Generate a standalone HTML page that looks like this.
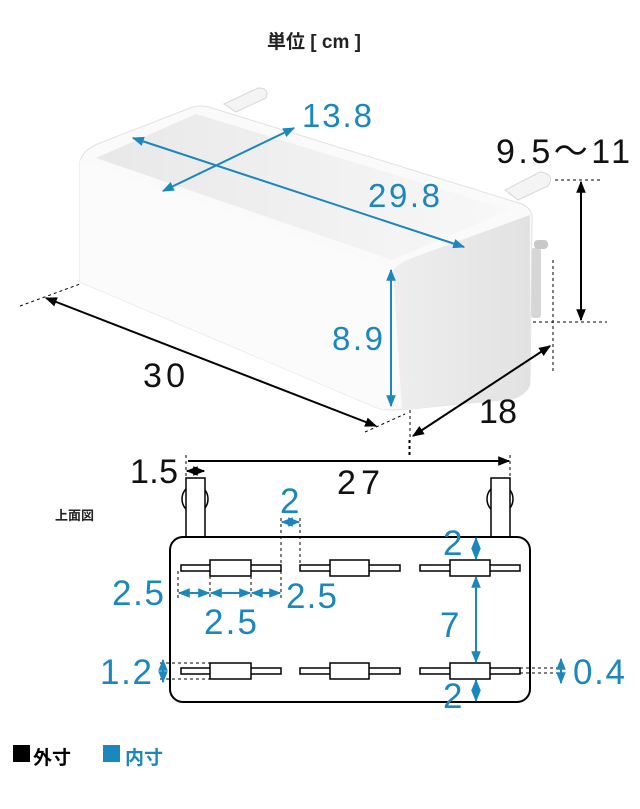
<!DOCTYPE html>
<html><head><meta charset="utf-8"><style>
html,body{margin:0;padding:0;background:#fff;width:640px;height:809px;overflow:hidden}
svg{display:block}
text{font-family:"Liberation Sans","Noto Sans CJK JP",sans-serif}
</style></head><body>
<svg width="640" height="809" viewBox="0 0 640 809" xmlns="http://www.w3.org/2000/svg">
<defs>
<marker id="ab" viewBox="0 0 10 10" refX="9" refY="5" markerWidth="6" markerHeight="6" orient="auto-start-reverse"><path d="M0,1 L10,5 L0,9 z" fill="#000"/></marker>
<marker id="abl" viewBox="0 0 10 10" refX="9" refY="5" markerWidth="6" markerHeight="6" orient="auto-start-reverse"><path d="M0,1 L10,5 L0,9 z" fill="#1a87bd"/></marker>
<linearGradient id="rf" x1="0" y1="0" x2="1" y2="0"><stop offset="0" stop-color="#eeeeee"/><stop offset="1" stop-color="#e2e2e2"/></linearGradient>
<linearGradient id="inn" x1="0" y1="0" x2="1" y2="0"><stop offset="0" stop-color="#e8e8e8"/><stop offset="1" stop-color="#f8f8f8"/></linearGradient>
</defs>

<text x="314" y="48" font-size="19" font-weight="bold" text-anchor="middle" fill="#222">単位 [ cm ]</text>

<!-- box -->
<path d="M224,104 L258,88 Q270,88 266,98 L236,112 Z" fill="#f4f4f4" stroke="#d8d8d8"/>
<path d="M505,190 L540,172 Q556,174 548,186 L518,200 Z" fill="#f4f4f4" stroke="#d8d8d8"/>
<rect x="531" y="248" width="10" height="70" fill="#d6d6d6" rx="3"/>
<rect x="534" y="240" width="14" height="9" rx="4" fill="#c8c8c8"/>
<path d="M80,162 Q82,150 100,143 L190,108 Q200,104 212,108 L522,204 Q533,209 532,220 L530,382 Q528,394 512,399 L410,409 L392,410 Q382,410 375,407 L80,282 Z" fill="#fafafa" stroke="#e2e2e2"/>
<path d="M96,158 L196,114 L510,210 L392,260 Z" fill="url(#inn)"/>
<path d="M393,270 Q400,262 412,258 L530,215 L530,385 Q528,394 512,399 L402,410 Z" fill="url(#rf)"/>
<path d="M80,160 L390,268 L392,408 Q385,411 375,407 L80,282 Z" fill="#fbfbfb"/>

<!-- blue inner dims -->
<g stroke="#1a87bd" stroke-width="2" fill="none">
<line x1="163" y1="191" x2="294" y2="128" marker-start="url(#abl)" marker-end="url(#abl)"/>
<line x1="133" y1="138" x2="464" y2="247" marker-start="url(#abl)" marker-end="url(#abl)"/>
<line x1="391" y1="270" x2="391" y2="406" marker-start="url(#abl)" marker-end="url(#abl)"/>
</g>
<g fill="#1a87bd" font-size="33">
<text x="302" y="127" textLength="70">13.8</text>
<text x="368" y="207" textLength="72">29.8</text>
<text x="332" y="350" textLength="51">8.9</text>
</g>

<!-- black outer dims -->
<g stroke="#000" stroke-width="1" stroke-dasharray="3,3" fill="none">
<line x1="20" y1="306" x2="80" y2="284"/>
<line x1="365" y1="432" x2="405" y2="414"/>
<line x1="410" y1="410" x2="410" y2="456"/>
<line x1="553" y1="260" x2="553" y2="372"/>
<line x1="555" y1="180" x2="600" y2="180"/>
<line x1="533" y1="322" x2="607" y2="322"/>
</g>
<g stroke="#000" stroke-width="2" fill="none">
<line x1="46" y1="298" x2="376" y2="426" marker-start="url(#ab)" marker-end="url(#ab)"/>
<line x1="413" y1="436" x2="550" y2="346" marker-start="url(#ab)" marker-end="url(#ab)"/>
<line x1="581" y1="182" x2="581" y2="320" marker-start="url(#ab)" marker-end="url(#ab)"/>
</g>
<g fill="#111" font-size="34">
<text x="143" y="387" textLength="42">30</text>
<text x="479" y="423" textLength="38">18</text>
<text x="496" y="163" textLength="134">9.5～11</text>
</g>

<!-- top view -->
<text x="55" y="520" font-size="13" font-weight="bold" fill="#222">上面図</text>
<g stroke="#000" stroke-width="1.5" fill="#fff">
<ellipse cx="195" cy="499" rx="13" ry="14"/>
<ellipse cx="500" cy="499" rx="13" ry="14"/>
<rect x="186" y="478" width="19" height="62"/>
<rect x="491" y="478" width="19" height="62"/>
<rect x="170" y="537" width="360" height="165" rx="13" stroke-width="2"/>
</g>
<g stroke="#000" stroke-width="1.5" fill="#fff">
<rect x="181" y="565" width="100" height="6"/><rect x="210" y="560" width="41" height="16"/>
<rect x="300" y="565" width="100" height="6"/><rect x="330" y="560" width="39" height="16"/>
<rect x="420" y="565" width="100" height="6"/><rect x="450" y="560" width="40" height="16"/>
<rect x="181" y="668" width="100" height="6"/><rect x="210" y="663" width="41" height="16"/>
<rect x="300" y="668" width="100" height="6"/><rect x="330" y="663" width="39" height="16"/>
<rect x="420" y="668" width="100" height="6"/><rect x="450" y="663" width="40" height="16"/>
</g>
<g stroke="#000" stroke-width="1" stroke-dasharray="3,3" fill="none">
<line x1="186" y1="455" x2="186" y2="478"/>
<line x1="510" y1="455" x2="510" y2="478"/>
<line x1="409" y1="440" x2="409" y2="458"/>
</g>
<g stroke="#000" stroke-width="2" fill="none">
<line x1="188" y1="461" x2="509" y2="461" marker-end="url(#ab)"/>
<line x1="187" y1="471" x2="204" y2="471" marker-start="url(#ab)" marker-end="url(#ab)"/>
</g>
<g fill="#111" font-size="34">
<text x="130" y="483" textLength="48">1.5</text>
<text x="337" y="494" textLength="43">27</text>
</g>
<g stroke="#000" stroke-width="1" stroke-dasharray="3,3" fill="none">
<line x1="281" y1="518" x2="281" y2="565"/>
<line x1="300" y1="518" x2="300" y2="565"/>
<line x1="178" y1="571" x2="178" y2="598"/>
<line x1="210" y1="576" x2="210" y2="598"/>
<line x1="251" y1="576" x2="251" y2="598"/>
<line x1="281" y1="571" x2="281" y2="598"/>
<line x1="160" y1="663" x2="210" y2="663"/>
<line x1="160" y1="679" x2="210" y2="679"/>
<line x1="520" y1="668" x2="558" y2="668"/>
<line x1="520" y1="673" x2="558" y2="673"/>
</g>
<g stroke="#1a87bd" stroke-width="2" fill="none">
<line x1="282" y1="522" x2="299" y2="522" marker-start="url(#abl)" marker-end="url(#abl)"/>
<line x1="179" y1="593" x2="209" y2="593" marker-start="url(#abl)" marker-end="url(#abl)"/>
<line x1="211" y1="593" x2="250" y2="593" marker-start="url(#abl)" marker-end="url(#abl)"/>
<line x1="252" y1="593" x2="280" y2="593" marker-start="url(#abl)" marker-end="url(#abl)"/>
<line x1="163" y1="660" x2="163" y2="682" marker-start="url(#abl)" marker-end="url(#abl)"/>
<line x1="561" y1="659" x2="561" y2="683" marker-start="url(#abl)" marker-end="url(#abl)"/>
<line x1="476" y1="538" x2="476" y2="559" marker-start="url(#abl)" marker-end="url(#abl)"/>
<line x1="476" y1="577" x2="476" y2="662" marker-start="url(#abl)" marker-end="url(#abl)"/>
<line x1="476" y1="680" x2="476" y2="701" marker-start="url(#abl)" marker-end="url(#abl)"/>
</g>
<g fill="#1a87bd" font-size="35">
<text x="280" y="513">2</text>
<text x="112" y="605" textLength="52">2.5</text>
<text x="286" y="608" textLength="51">2.5</text>
<text x="204" y="634" textLength="53">2.5</text>
<text x="100" y="684" textLength="52">1.2</text>
<text x="573" y="684" textLength="52">0.4</text>
<text x="443" y="555">2</text>
<text x="440" y="637">7</text>
<text x="443" y="708">2</text>
</g>

<!-- legend -->
<rect x="13" y="745" width="17" height="17" fill="#000"/>
<text x="33" y="764" font-size="19" font-weight="bold" fill="#000">外寸</text>
<rect x="103" y="745" width="17" height="17" fill="#1a87bd"/>
<text x="125" y="764" font-size="19" font-weight="bold" fill="#1a87bd">内寸</text>
</svg>
</body></html>
